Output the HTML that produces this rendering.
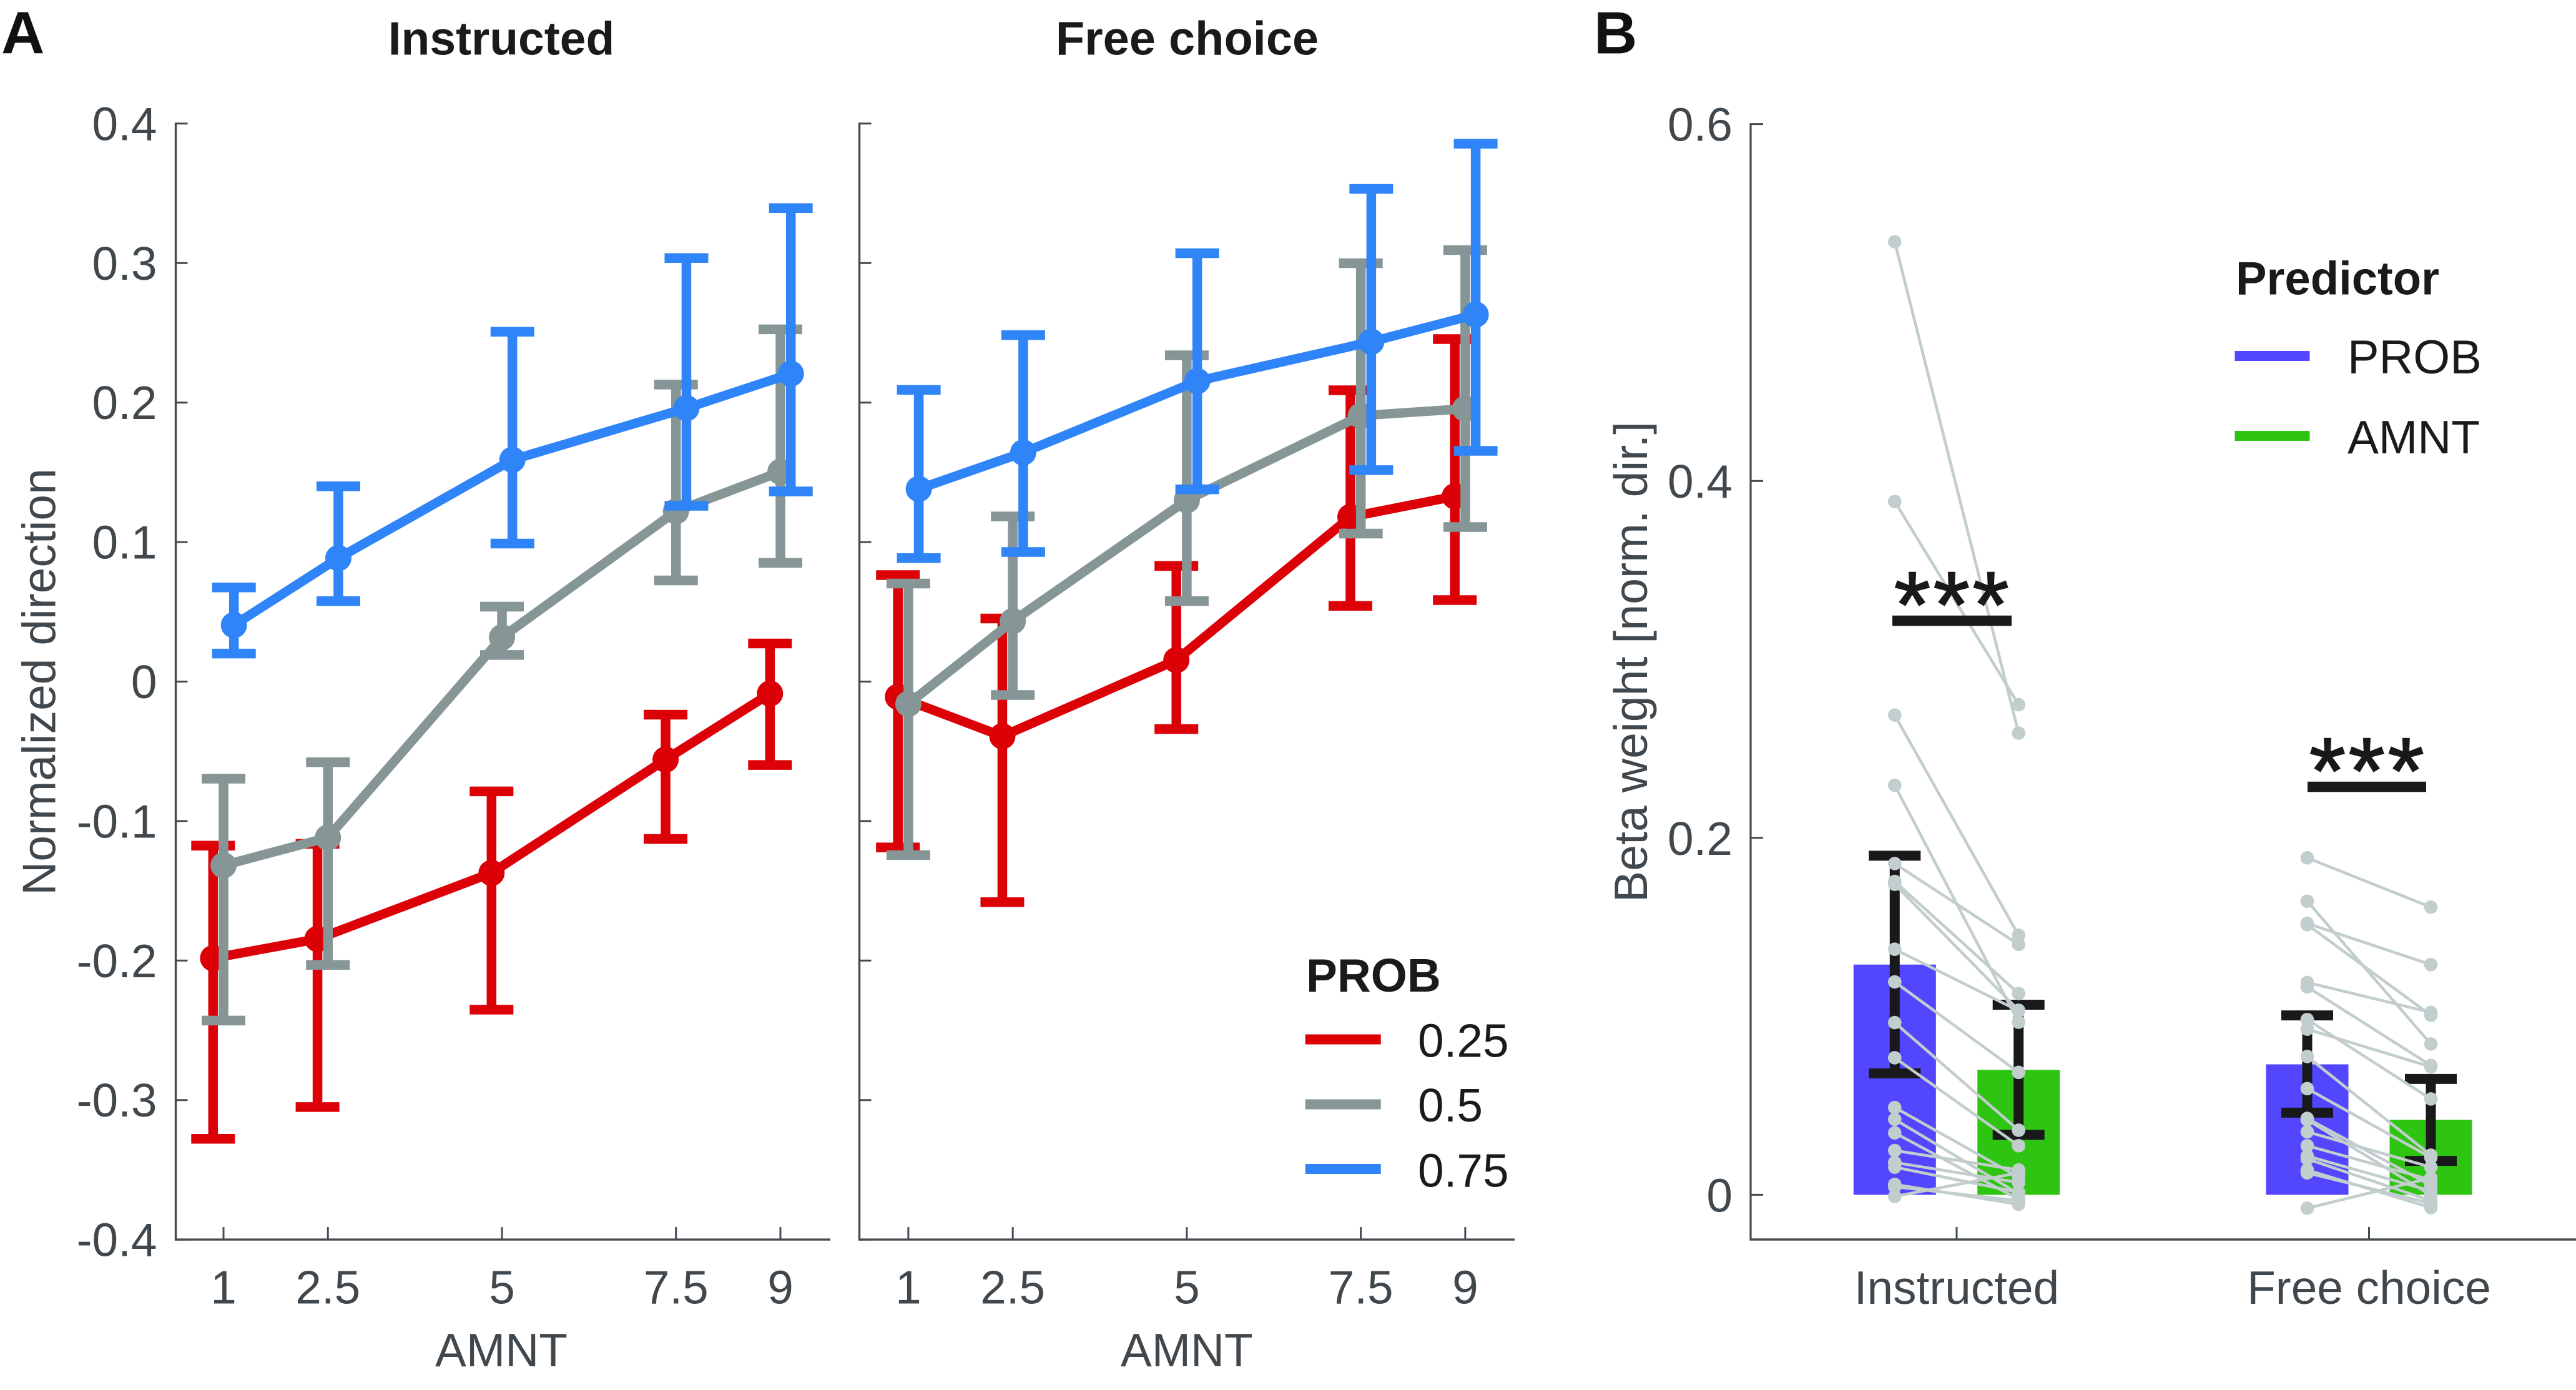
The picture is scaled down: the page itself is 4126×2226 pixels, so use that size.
<!DOCTYPE html>
<html lang="en">
<head>
<meta charset="utf-8">
<title>Beta weights and normalized direction</title>
<style>
html,body{margin:0;padding:0;background:#fff;}
svg{display:block;}
text{font-family:"Liberation Sans",Arial,sans-serif;}
</style>
</head>
<body>
<svg id="figure" xmlns="http://www.w3.org/2000/svg" width="4126" height="2226" viewBox="0 0 4126 2226">
  <rect x="0" y="0" width="4126" height="2226" fill="#ffffff"/>
  <text x="2" y="85.5" font-size="96" font-weight="700" fill="#111">A</text>
  <text x="2553" y="85.5" font-size="96" font-weight="700" fill="#111">B</text>
  <text x="803" y="87.5" font-size="75" font-weight="700" fill="#1a1a1c" text-anchor="middle">Instructed</text>
  <text x="1901.5" y="87.5" font-size="75.8" font-weight="700" fill="#1a1a1c" text-anchor="middle">Free choice</text>
  <text transform="translate(88.5 1092) rotate(-90)" font-size="75" fill="#40484d" text-anchor="middle">Normalized direction</text>
  <text x="803" y="2188" font-size="74.8" fill="#40484d" text-anchor="middle">AMNT</text>
  <text x="1900.8" y="2188" font-size="74.8" fill="#40484d" text-anchor="middle">AMNT</text>
  <text transform="translate(2638 1060) rotate(-90)" font-size="75.3" fill="#40484d" text-anchor="middle">Beta weight [norm. dir.]</text>

  <g id="panelAL"></g>
  <g id="panelAR"></g>
  <g id="panelB"></g>

  <g>
    <text x="2092" y="1588" font-size="74.7" font-weight="700" fill="#1a1a1c">PROB</text>
    <rect x="2090.7" y="1656.5" width="121" height="16" fill="#dc0007"/>
    <text x="2271" y="1692.5" font-size="74.8" fill="#1a1a1c">0.25</text>
    <rect x="2090.7" y="1760.5" width="121" height="16" fill="#869595"/>
    <text x="2271" y="1796" font-size="74.8" fill="#1a1a1c">0.5</text>
    <rect x="2090.7" y="1864" width="121" height="16" fill="#2f84f7"/>
    <text x="2271" y="1900.5" font-size="74.8" fill="#1a1a1c">0.75</text>
  </g>
  <g>
    <text x="3581" y="471.5" font-size="75" font-weight="700" fill="#1a1a1c" textLength="326" lengthAdjust="spacingAndGlyphs">Predictor</text>
    <rect x="3579.5" y="562" width="120" height="16" fill="#5246ff"/>
    <text x="3760" y="598" font-size="75.8" fill="#1a1a1c">PROB</text>
    <rect x="3579.5" y="690" width="120" height="16" fill="#2ec412"/>
    <text x="3760" y="726" font-size="74.8" fill="#1a1a1c">AMNT</text>
  </g>
</svg>

<script>
// ---------- Panel A data ----------
const amntLevels = [1, 2.5, 5, 7.5, 9];
const amntTickLabels = ['1', '2.5', '5', '7.5', '9'];
const directionTicks = [0.4, 0.3, 0.2, 0.1, 0, -0.1, -0.2, -0.3, -0.4];
const directionTickLabels = ['0.4', '0.3', '0.2', '0.1', '0', '-0.1', '-0.2', '-0.3', '-0.4'];

const instructedRedMean = [-0.1983, -0.1845, -0.1372, -0.0559, -0.0086];
const instructedRedHigh = [-0.1176, -0.1163, -0.0787, -0.0237, 0.0273];
const instructedRedLow = [-0.3278, -0.305, -0.2352, -0.1128, -0.0598];
const instructedGrayMean = [-0.1317, -0.1118, 0.0317, 0.1221, 0.1504];
const instructedGrayHigh = [-0.0696, -0.0578, 0.0537, 0.2129, 0.2525];
const instructedGrayLow = [-0.243, -0.2031, 0.0191, 0.0725, 0.0851];
const instructedBlueMean = [0.0405, 0.0885, 0.159, 0.196, 0.2207];
const instructedBlueHigh = [0.0675, 0.14, 0.2508, 0.3036, 0.3394];
const instructedBlueLow = [0.0201, 0.0577, 0.0989, 0.126, 0.1363];

const freeRedMean = [-0.0109, -0.0392, 0.0154, 0.118, 0.1328];
const freeRedHigh = [0.0763, 0.0452, 0.0829, 0.2088, 0.2455];
const freeRedLow = [-0.1189, -0.1581, -0.034, 0.0543, 0.0584];
const freeGrayMean = [-0.016, 0.0433, 0.13, 0.1906, 0.1956];
const freeGrayHigh = [0.0703, 0.1184, 0.2339, 0.2999, 0.3093];
const freeGrayLow = [-0.1244, -0.0096, 0.0577, 0.1061, 0.1108];
const freeBlueMean = [0.1381, 0.1642, 0.2154, 0.2436, 0.2631];
const freeBlueHigh = [0.2091, 0.2484, 0.3071, 0.3532, 0.3856];
const freeBlueLow = [0.0885, 0.0929, 0.1378, 0.1516, 0.1654];

// ---------- Panel B data ----------
const betaTicks = [0, 0.2, 0.4, 0.6];
const betaTickLabels = ['0', '0.2', '0.4', '0.6'];
const conditionLabels = ['Instructed', 'Free choice'];
const barProb = [0.129, 0.0731];
const barAmnt = [0.07, 0.042];
const errProbHigh = [0.19, 0.1005];
const errProbLow = [0.068, 0.046];
const errAmntHigh = [0.1065, 0.0649];
const errAmntLow = [0.0336, 0.019];
const instructedProbSubjects = [0.534, 0.3885, 0.2688, 0.2295, 0.1856, 0.1756, 0.174, 0.1376, 0.1193, 0.0965, 0.0768, 0.0489, 0.0423, 0.0347, 0.0248, 0.0181, 0.0155, 0.0058, 0.0045, -0.0009];
const instructedAmntSubjects = [0.2587, 0.2746, 0.1454, 0.0967, 0.1403, 0.1128, 0.1034, 0.1031, 0.0686, 0.0362, 0.0275, 0.01, 0.0006, -0.0025, 0.0139, 0.0069, 0.0014, -0.0053, -0.0033, 0.0123];
const freeProbSubjects = [0.1888, 0.1645, 0.1521, 0.1514, 0.119, 0.1165, 0.0982, 0.0928, 0.0775, 0.0595, 0.0428, 0.042, 0.0353, 0.0275, 0.0217, 0.0201, 0.0139, 0.0123, -0.0075];
const freeAmntSubjects = [0.1612, 0.0845, 0.129, 0.1006, 0.1022, 0.0725, 0.0537, 0.0717, 0.0222, 0.0209, 0.0053, -0.0002, 0.0155, 0.0084, 0.0022, -0.0033, -0.0072, -0.0048, 0.0094];

// ---------- Axis functions ----------
const NS = 'http://www.w3.org/2000/svg';
const AXIS_COLOR = '#444b50';
const TEXT_COLOR = '#40484d';
const RED = '#dc0007', GRAY = '#869595', BLUE = '#2f84f7';
const SUBJECT = '#c2cdcd', BLACK = '#19191b';
function yDir(v) { return 1091.5 - v * 2234; }
function xLeft(a) { return 358 + (a - 1) * 111.5; }
function xRight(a) { return 1454.9 + (a - 1) * 111.5; }
function yBeta(v) { return 1913.4 - v * 2858; }
function xCond(i, k) { return [[3034.8, 3233.2], [3695.5, 3893.5]][i][k]; }

function addLine(parent, name, x1, y1, x2, y2, color, w) {
  const el = document.createElementNS(NS, 'line');
  
  
  el.setAttribute('x1', x1);
  el.setAttribute('y1', y1);
  el.setAttribute('x2', x2);
  el.setAttribute('y2', y2);
  el.setAttribute('stroke', color);
  el.setAttribute('stroke-width', w);
  parent.appendChild(el);
  return el;
}
function addDot(parent, name, cx, cy, r, color) {
  const el = document.createElementNS(NS, 'circle');
  
  
  el.setAttribute('cx', cx);
  el.setAttribute('cy', cy);
  el.setAttribute('r', r);
  el.setAttribute('fill', color);
  parent.appendChild(el);
  return el;
}
function addText(parent, name, x, y, str, size, anchor, color) {
  const el = document.createElementNS(NS, 'text');
  
  
  el.setAttribute('x', x);
  el.setAttribute('y', y);
  el.setAttribute('font-size', size);
  el.setAttribute('text-anchor', anchor);
  el.setAttribute('fill', color);
  el.textContent = str;
  parent.appendChild(el);
  return el;
}

function drawDirectionAxes(g, xs, axisX, axisEnd, prefix, withLabels) {
  addLine(g, prefix + '-y-axis', axisX, yDir(0.4) - 1.5, axisX, yDir(-0.4) + 1.5, AXIS_COLOR, 3.4);
  addLine(g, prefix + '-x-axis', axisX - 1.5, yDir(-0.4), axisEnd, yDir(-0.4), AXIS_COLOR, 3.4);
  directionTicks.forEach(function (t, i) {
    addLine(g, prefix + '-y-tick', axisX, yDir(t), axisX + 19, yDir(t), AXIS_COLOR, 3);
    if (withLabels) {
      addText(g, prefix + '-y-tick-label', 251.5, yDir(t) + 26.5, directionTickLabels[i], 74.8, 'end', TEXT_COLOR);
    }
  });
  amntLevels.forEach(function (a, i) {
    addLine(g, prefix + '-x-tick', xs(a), yDir(-0.4), xs(a), yDir(-0.4) - 20, AXIS_COLOR, 3);
    addText(g, prefix + '-x-tick-label', xs(a), 2087.5, amntTickLabels[i], 74.8, 'middle', TEXT_COLOR);
  });
}

function drawSeries(g, xs, offset, mean, high, low, color, name) {
  const capHalf = 35;
  amntLevels.forEach(function (a, i) {
    const x = xs(a) + offset;
    addLine(g, name + '-error-bar', x, yDir(high[i]), x, yDir(low[i]), color, 15.5);
    addLine(g, name + '-error-cap-high', x - capHalf, yDir(high[i]), x + capHalf, yDir(high[i]), color, 15.5);
    addLine(g, name + '-error-cap-low', x - capHalf, yDir(low[i]), x + capHalf, yDir(low[i]), color, 15.5);
  });
  const path = document.createElementNS(NS, 'polyline');
  
  
  path.setAttribute('points', amntLevels.map(function (a, i) { return (xs(a) + offset) + ',' + yDir(mean[i]); }).join(' '));
  path.setAttribute('fill', 'none');
  path.setAttribute('stroke', color);
  path.setAttribute('stroke-width', 15);
  path.setAttribute('stroke-linejoin', 'round');
  g.appendChild(path);
  amntLevels.forEach(function (a, i) {
    addDot(g, name + '-point', xs(a) + offset, yDir(mean[i]), 21, color);
  });
}

const panelAL = document.getElementById('panelAL');
drawDirectionAxes(panelAL, xLeft, 281.5, 1330, 'instructed', true);
drawSeries(panelAL, xLeft, -16.7, instructedRedMean, instructedRedHigh, instructedRedLow, RED, 'instructed-prob-025');
drawSeries(panelAL, xLeft, 0, instructedGrayMean, instructedGrayHigh, instructedGrayLow, GRAY, 'instructed-prob-05');
drawSeries(panelAL, xLeft, 16.7, instructedBlueMean, instructedBlueHigh, instructedBlueLow, BLUE, 'instructed-prob-075');

const panelAR = document.getElementById('panelAR');
drawDirectionAxes(panelAR, xRight, 1376.5, 2426, 'free-choice', false);
drawSeries(panelAR, xRight, -16.7, freeRedMean, freeRedHigh, freeRedLow, RED, 'free-choice-prob-025');
drawSeries(panelAR, xRight, 0, freeGrayMean, freeGrayHigh, freeGrayLow, GRAY, 'free-choice-prob-05');
drawSeries(panelAR, xRight, 16.7, freeBlueMean, freeBlueHigh, freeBlueLow, BLUE, 'free-choice-prob-075');

// ---------- Panel B ----------
const panelB = document.getElementById('panelB');
const tickCond = [3134, 3794.5];
addLine(panelB, 'beta-y-axis', 2804, yBeta(0.6) - 1.5, 2804, 1985, AXIS_COLOR, 3.2);
addLine(panelB, 'beta-x-axis', 2802.5, 1985, 4126, 1985, AXIS_COLOR, 3.6);
betaTicks.forEach(function (t, i) {
  addLine(panelB, 'beta-y-tick', 2804, yBeta(t), 2824, yBeta(t), AXIS_COLOR, 3);
  addText(panelB, 'beta-y-tick-label', 2775, yBeta(t) + 27, betaTickLabels[i], 74.8, 'end', TEXT_COLOR);
});
conditionLabels.forEach(function (label, i) {
  addLine(panelB, 'beta-x-tick', tickCond[i], 1985, tickCond[i], 1965, AXIS_COLOR, 3);
  addText(panelB, 'beta-x-tick-label', tickCond[i], 2088, label, 74.8, 'middle', TEXT_COLOR);
});

function addBar(name, cx, value, color) {
  const el = document.createElementNS(NS, 'rect');
  
  
  el.setAttribute('x', cx - 66);
  el.setAttribute('y', yBeta(value));
  el.setAttribute('width', 132);
  el.setAttribute('height', yBeta(0) - yBeta(value));
  el.setAttribute('fill', color);
  panelB.appendChild(el);
}
function addErr(name, cx, hi, lo) {
  addLine(panelB, name + '-error-bar', cx, yBeta(hi), cx, yBeta(lo), BLACK, 16);
  addLine(panelB, name + '-error-cap-high', cx - 41.5, yBeta(hi), cx + 41.5, yBeta(hi), BLACK, 16);
  addLine(panelB, name + '-error-cap-low', cx - 41.5, yBeta(lo), cx + 41.5, yBeta(lo), BLACK, 16);
}
function addSubjects(name, i, probs, amnts) {
  probs.forEach(function (p, s) {
    addLine(panelB, name + '-subject-line', xCond(i, 0), yBeta(p), xCond(i, 1), yBeta(amnts[s]), SUBJECT, 4.6);
  });
  probs.forEach(function (p, s) {
    addDot(panelB, name + '-subject-prob-dot', xCond(i, 0), yBeta(p), 10.8, SUBJECT);
    addDot(panelB, name + '-subject-amnt-dot', xCond(i, 1), yBeta(amnts[s]), 10.8, SUBJECT);
  });
}
conditionLabels.forEach(function (label, i) {
  const key = i === 0 ? 'instructed' : 'free-choice';
  addBar(key + '-prob-bar', xCond(i, 0), barProb[i], '#5246ff');
  addBar(key + '-amnt-bar', xCond(i, 1), barAmnt[i], '#2ec412');
  addErr(key + '-prob', xCond(i, 0), errProbHigh[i], errProbLow[i]);
  addErr(key + '-amnt', xCond(i, 1), errAmntHigh[i], errAmntLow[i]);
});
addSubjects('instructed', 0, instructedProbSubjects, instructedAmntSubjects);
addSubjects('free-choice', 1, freeProbSubjects, freeAmntSubjects);

// significance markers
addLine(panelB, 'instructed-significance-bar', 3031, 994, 3222, 994, BLACK, 16.5);
addLine(panelB, 'free-choice-significance-bar', 3696, 1260, 3886, 1260, BLACK, 16.5);
const starsA = addText(panelB, 'instructed-significance-stars', 3128, 1020, '***', 150, 'middle', BLACK);
starsA.setAttribute('letter-spacing', '4.5');
starsA.setAttribute('stroke', BLACK);
starsA.setAttribute('stroke-width', '2');
const starsB = addText(panelB, 'free-choice-significance-stars', 3793, 1286, '***', 150, 'middle', BLACK);
starsB.setAttribute('letter-spacing', '4.5');
starsB.setAttribute('stroke', BLACK);
starsB.setAttribute('stroke-width', '2');
</script>
</body>
</html>
